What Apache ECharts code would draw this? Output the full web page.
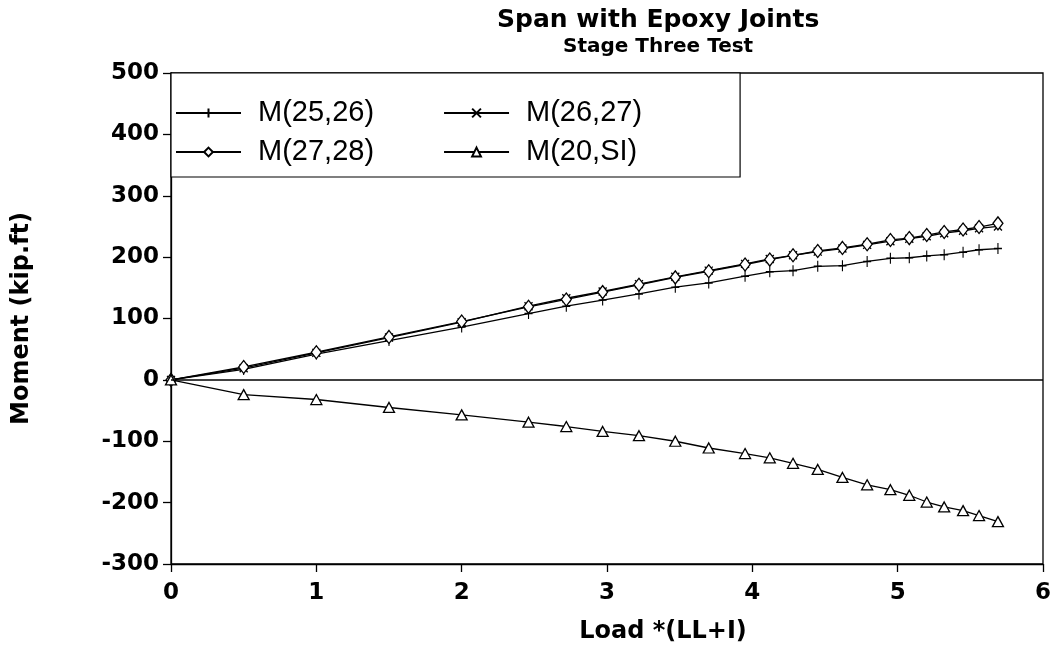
<!DOCTYPE html>
<html>
<head>
<meta charset="utf-8">
<script src="https://cdn.jsdelivr.net/npm/echarts@6/dist/echarts.min.js"></script>
<style>
  html, body { margin: 0; padding: 0; background: #fff; }
  #chart { width: 1057px; height: 649px; }
</style>
</head>
<body>
<div id="chart"></div>
<script>
// ---- data ----
const loadValues = [0, 0.5, 1.0, 1.5, 2.0, 2.46, 2.72, 2.97, 3.22, 3.47, 3.70, 3.95, 4.12, 4.28, 4.45, 4.62, 4.79, 4.95, 5.08, 5.20, 5.32, 5.45, 5.56, 5.69];
const m25_26 = [0, 17, 42, 64, 86, 108, 120, 130, 140, 151, 158, 169, 176, 178, 185, 186, 193, 198, 199, 202, 204, 208, 212, 214];
const m26_27 = [0, 19, 44, 69, 94, 120, 133, 144, 156, 168, 178, 189, 197, 203, 209, 214, 220, 226, 230, 234, 239, 243, 247, 250];
const m27_28 = [0, 21, 45, 70, 95, 119, 131, 143, 155, 167, 177, 188, 196, 203, 210, 215, 221, 228, 231, 236, 241, 245, 249, 255];
const m20_SI = [0, -24, -32, -45, -57, -69, -76, -84, -91, -100, -111, -120, -127, -136, -146, -159, -171, -179, -188, -199, -207, -213, -221, -231];
const seriesNames = ['M(25,26)', 'M(26,27)', 'M(27,28)', 'M(20,SI)'];
const titleText = 'Span with Epoxy Joints';
const subtitleText = 'Stage Three Test';
const xAxisName = 'Load *(LL+I)';
const yAxisName = 'Moment (kip.ft)';

const pairs = (ys) => loadValues.map((x, i) => [x, ys[i]]);

const boldFont = 'DejaVu Sans';
const symPlus = 'path://M0,5 L10,5 M5,0 L5,10';
const symCross = 'path://M0,0 L10,10 M10,0 L0,10';

function mkSeries(name, ys, symbol, size, extra) {
  return Object.assign({
    name: name,
    type: 'line',
    data: pairs(ys),
    symbol: symbol,
    symbolSize: size,
    showSymbol: true,
    lineStyle: { color: '#000', width: 1.3 },
    itemStyle: { color: '#fff', borderColor: '#000', borderWidth: 1.3 },
    emphasis: { disabled: true },
    animation: false
  }, extra || {});
}

const chart = echarts.init(document.getElementById('chart'), null, { renderer: 'canvas' });
chart.setOption({
  backgroundColor: '#fff',
  animation: false,
  title: [
    { text: titleText, left: 497, top: 8, padding: 0,
      textStyle: { fontFamily: boldFont, fontWeight: 'bold', fontSize: 25, color: '#000' } },
    { text: subtitleText, left: 563, top: 37, padding: 0,
      textStyle: { fontFamily: boldFont, fontWeight: 'bold', fontSize: 20, color: '#000' } }
  ],
  grid: {
    left: 171, right: 14, top: 73, bottom: 85,
    show: true, borderColor: '#000', borderWidth: 1.3, backgroundColor: 'transparent'
  },
  legend: {
    data: seriesNames,
    left: 171, top: 73,
    orient: 'horizontal',
    width: 540,
    padding: [21, 30, 6, 4],
    itemGap: 1,
    itemWidth: 65,
    itemHeight: 11,
    backgroundColor: '#fff',
    borderColor: '#000',
    borderWidth: 1.2,
    borderRadius: 0,
    selectedMode: false,
    textStyle: {
      fontFamily: 'Liberation Sans', fontSize: 29, color: '#000',
      lineHeight: 38, padding: [0, 68, 0, 12]
    }
  },
  xAxis: {
    type: 'value', min: 0, max: 6, interval: 1,
    name: xAxisName, nameLocation: 'middle', nameGap: 56,
    nameTextStyle: { fontFamily: boldFont, fontWeight: 'bold', fontSize: 24, color: '#000', padding: [0, 0, 0, 112] },
    axisLine: { show: true, onZero: false, lineStyle: { color: '#000', width: 1.3 } },
    axisTick: { show: true, inside: false, length: 8, lineStyle: { color: '#000', width: 1.3 } },
    axisLabel: { fontFamily: boldFont, fontWeight: 'bold', fontSize: 23, color: '#000', margin: 18 },
    splitLine: { show: false }
  },
  yAxis: {
    type: 'value', min: -300, max: 500, interval: 100,
    name: yAxisName, nameLocation: 'middle', nameGap: 137, nameRotate: 90,
    nameTextStyle: { fontFamily: boldFont, fontWeight: 'bold', fontSize: 24, color: '#000' },
    axisLine: { show: true, onZero: false, lineStyle: { color: '#000', width: 1.3 } },
    axisTick: { show: true, inside: false, length: 8, lineStyle: { color: '#000', width: 1.3 } },
    axisLabel: { fontFamily: boldFont, fontWeight: 'bold', fontSize: 23, color: '#000', margin: 12 },
    splitLine: { show: false }
  },
  series: [
    mkSeries(seriesNames[0], m25_26, symPlus, [8, 11], {
      markLine: {
        silent: true, symbol: ['none', 'none'], animation: false,
        label: { show: false },
        lineStyle: { color: '#000', type: 'solid', width: 1.6 },
        emphasis: { disabled: true },
        data: [{ yAxis: 0 }]
      }
    }),
    mkSeries(seriesNames[1], m26_27, symCross, [8, 8]),
    mkSeries(seriesNames[2], m27_28, 'diamond', [10, 13]),
    mkSeries(seriesNames[3], m20_SI, 'triangle', [11, 10])
  ]
});
</script>
</body>
</html>
